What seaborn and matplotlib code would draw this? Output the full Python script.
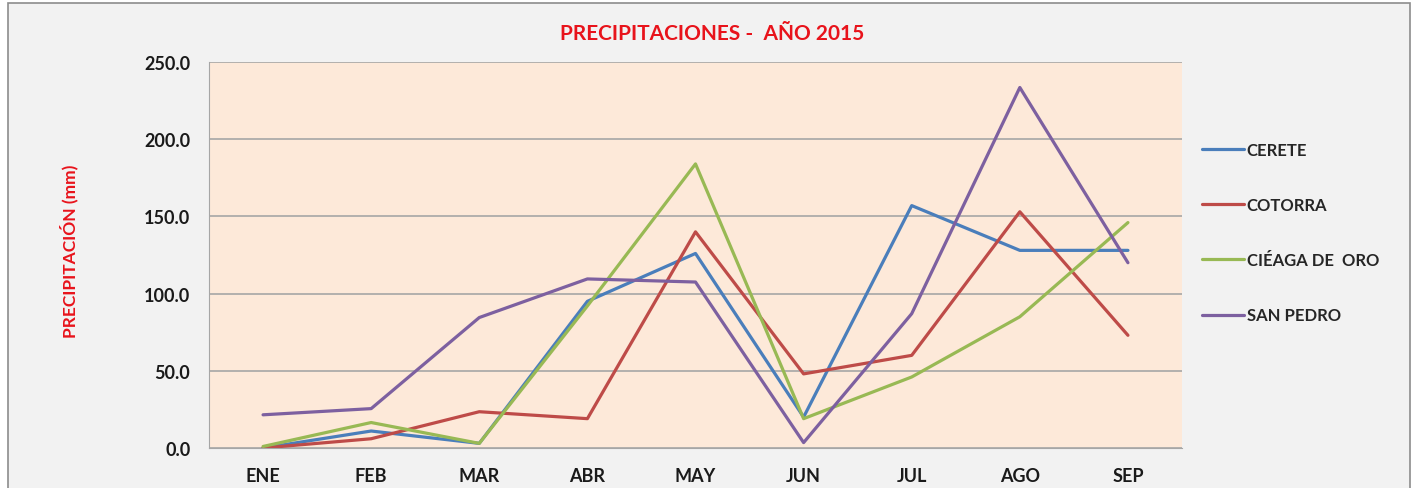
import pandas as pd
import matplotlib.pyplot as plt
import seaborn as sns
from matplotlib.patches import Rectangle

# --- datos ---
meses = ['ENE', 'FEB', 'MAR', 'ABR', 'MAY', 'JUN', 'JUL', 'AGO', 'SEP']
cerete = [0.0, 11.0, 3.0, 95.0, 126.0, 20.0, 157.0, 128.0, 128.0]
cotorra = [0.0, 6.0, 23.5, 19.0, 140.0, 48.0, 60.0, 153.0, 73.0]
cienaga = [1.0, 16.5, 3.0, 92.0, 184.0, 19.0, 46.0, 85.0, 146.0]
san_pedro = [21.5, 25.5, 84.5, 109.5, 107.5, 3.5, 87.0, 233.5, 120.0]

estaciones = ['CERETE', 'COTORRA', 'CIÉAGA DE  ORO', 'SAN PEDRO']
colores = ['#4a7ebb', '#be4b48', '#98b954', '#7d60a0']

df = pd.DataFrame({
    'Mes': meses * 4,
    'Precipitacion': cerete + cotorra + cienaga + san_pedro,
    'Estacion': [e for e in estaciones for _ in meses],
})
df['pos'] = df['Mes'].map({m: i for i, m in enumerate(meses)})

sns.set_style('white')
plt.rcParams['font.family'] = ['Lato', 'DejaVu Sans']

fig = plt.figure(figsize=(14.19, 4.89), dpi=100)
fig.patch.set_facecolor('white')
# marco del grafico
fig.add_artist(Rectangle((8 / 1419, -0.01), 1402 / 1419, 1 - 4 / 489 + 0.01,
                         transform=fig.transFigure, facecolor='#f2f2f2',
                         edgecolor='#8c8c8c', linewidth=1.2, zorder=-10))

ax = fig.add_axes([209 / 1419, 40 / 489, 973 / 1419, 386 / 489])
ax.set_facecolor('#fde9d9')

sns.lineplot(data=df, x='pos', y='Precipitacion', hue='Estacion',
             palette=colores, linewidth=2.3, ax=ax, sort=False)

ax.set_xlim(-0.5, 8.5)
ax.set_ylim(0, 250)
ax.set_xticks(range(len(meses)))
ax.set_xticklabels(meses)
ax.set_yticks([0, 50, 100, 150, 200, 250])
ax.set_yticklabels([f'{v:.1f}' for v in [0, 50, 100, 150, 200, 250]])
ax.tick_params(axis='both', length=0, labelsize=13, colors='#1a1a1a')
ax.tick_params(axis='x', pad=14)
ax.tick_params(axis='y', pad=13.5)
for lbl in ax.get_xticklabels() + ax.get_yticklabels():
    lbl.set_fontweight('bold')

ax.grid(axis='y', color='#a6a6a6', linewidth=1.2)
ax.set_axisbelow(True)
for s in ['top', 'right']:
    ax.spines[s].set_visible(False)
ax.spines['left'].set_color('#a6a6a6')
ax.spines['bottom'].set_color('#a6a6a6')

ax.set_xlabel('')
ax.set_ylabel('PRECIPITACIÓN (mm)', color='#e8131b', fontsize=12.5,
              fontweight='bold')
ax.yaxis.set_label_coords(-0.134, 0.513)

fig.text(712 / 1419, 1 - 34 / 489, 'PRECIPITACIONES -  AÑO 2015',
         color='#e8131b', fontsize=15, fontweight='bold',
         ha='center', va='center')

handles, labels = ax.get_legend_handles_labels()
ax.legend(handles, labels, loc='upper left', bbox_to_anchor=(1.005, 0.832),
          frameon=False, handlelength=2.5, handletextpad=0.2,
          labelspacing=2.35, prop={'weight': 'bold', 'size': 12})

plt.savefig('out.png', dpi=100)
